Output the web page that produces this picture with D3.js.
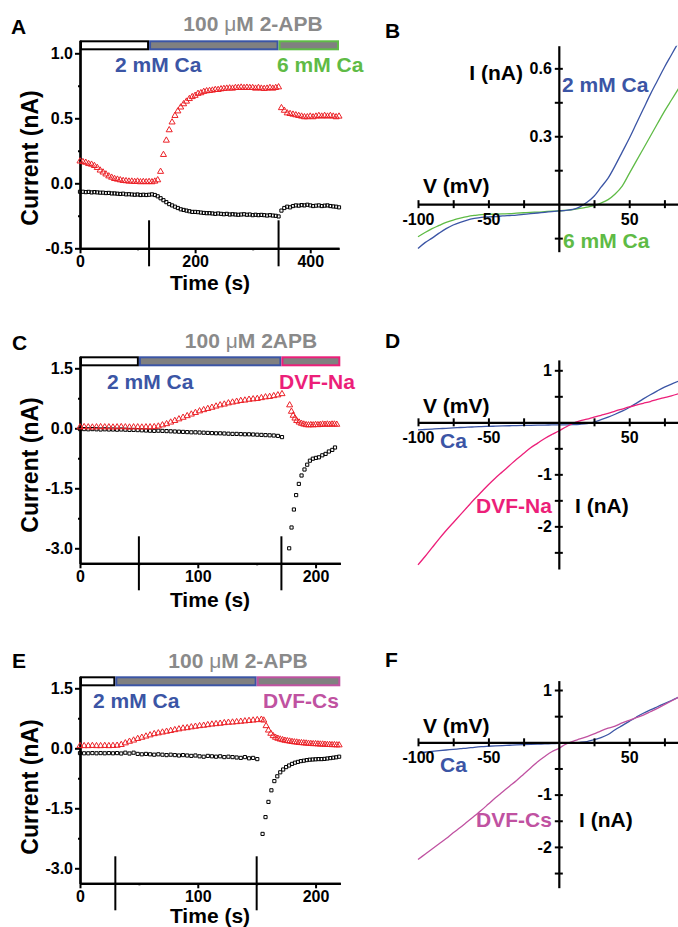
<!DOCTYPE html>
<html><head><meta charset="utf-8">
<script src="https://cdn.jsdelivr.net/npm/d3@7"></script>
<style>
body{margin:0;background:#fff}
svg{display:block}
text{font-family:'Liberation Sans',Arial,Helvetica,sans-serif;font-weight:bold}
</style>
</head><body>
<svg id="c" width="678" height="927"></svg>
<script>
// ---------------- DATA ----------------
// Panel A (time course, 2 mM Ca -> 6 mM Ca)
const tA_pre = d3.range(0, 346, 5);
const tA_post = d3.range(350, 451, 5);
const redA_pre = [0.17,0.165,0.16,0.15,0.145,0.135,0.12,0.10,0.085,0.07,
 0.055,0.045,0.035,0.03,0.025,0.02,0.018,0.015,0.015,0.012,
 0.015,0.01,0.012,0.01,0.012,0.01,0.015,0.025,0.09,0.22,
 0.33,0.41,0.47,0.52,0.555,0.585,0.61,0.63,0.65,0.665,
 0.675,0.69,0.695,0.705,0.71,0.712,0.715,0.72,0.72,0.725,
 0.728,0.73,0.732,0.73,0.735,0.735,0.738,0.735,0.737,0.735,
 0.735,0.73,0.735,0.73,0.728,0.73,0.735,0.73,0.735,0.74];
const redA_post = [0.58,0.56,0.54,0.535,0.53,0.525,0.52,0.515,0.51,0.51,0.515,0.51,0.515,0.52,0.515,0.52,0.515,0.52,0.515,0.51,0.515];
const blackA_pre = [-0.065,-0.065,-0.068,-0.066,-0.07,-0.068,-0.07,-0.072,-0.072,-0.075,
 -0.074,-0.078,-0.078,-0.08,-0.082,-0.08,-0.085,-0.084,-0.086,-0.088,
 -0.086,-0.09,-0.088,-0.09,-0.088,-0.085,-0.09,-0.10,-0.115,-0.13,
 -0.145,-0.16,-0.17,-0.18,-0.19,-0.2,-0.205,-0.21,-0.215,-0.22,
 -0.22,-0.222,-0.225,-0.228,-0.23,-0.23,-0.232,-0.235,-0.232,-0.235,
 -0.238,-0.235,-0.24,-0.238,-0.24,-0.242,-0.24,-0.238,-0.242,-0.24,
 -0.245,-0.242,-0.245,-0.243,-0.245,-0.248,-0.245,-0.248,-0.25,-0.255];
const blackA_post = [-0.21,-0.19,-0.18,-0.185,-0.175,-0.17,-0.172,-0.168,-0.17,-0.165,-0.17,-0.175,-0.172,-0.17,-0.175,-0.172,-0.17,-0.175,-0.178,-0.18,-0.185];

// Panel C (time course, 2 mM Ca -> DVF-Na)
const tC_pre = d3.range(0, 172, 3.5);
const redC_pre = [0.03,0.035,0.03,0.025,0.03,0.035,0.03,0.03,0.025,0.03,
 0.035,0.03,0.025,0.03,0.03,0.025,0.03,0.03,0.035,
 0.05,0.08,0.11,0.15,0.19,0.23,0.27,0.31,0.35,0.39,
 0.43,0.46,0.49,0.52,0.55,0.58,0.6,0.63,0.65,0.67,
 0.69,0.7,0.72,0.73,0.74,0.76,0.78,0.79,0.81,0.83,0.86];
const blackC_pre = [-0.02,-0.02,-0.025,-0.02,-0.025,-0.03,-0.025,-0.03,-0.03,-0.035,
 -0.03,-0.035,-0.04,-0.04,-0.045,-0.05,-0.055,-0.06,-0.065,-0.06,
 -0.065,-0.07,-0.075,-0.08,-0.085,-0.09,-0.095,-0.1,-0.1,-0.105,
 -0.11,-0.115,-0.12,-0.125,-0.125,-0.13,-0.135,-0.14,-0.14,-0.145,
 -0.15,-0.15,-0.155,-0.16,-0.165,-0.17,-0.175,-0.18,-0.19,-0.22];
const tC_redPost = [178,179.5,181,182.5,184,186,188,190,192,194,196,198,200,202,204,206,208,210,212,214,216,218];
const redC_post = [0.58,0.42,0.32,0.25,0.19,0.15,0.12,0.1,0.085,0.08,0.085,0.08,0.09,0.085,0.09,0.1,0.095,0.1,0.095,0.1,0.1,0.095];
const tC_blackPost = [177.6,179.6,181.6,183.5,185.8,188.1,190.6,192.9,195.2,197.7,200.3,202.8,205.7,208.5,211.3,214.2,216.5];
const blackC_post = [-3.0,-2.48,-2.03,-1.67,-1.39,-1.18,-1.03,-0.91,-0.81,-0.76,-0.74,-0.725,-0.675,-0.64,-0.58,-0.54,-0.48];

// Panel E (time course, 2 mM Ca -> DVF-Cs)
const tE_redPre = d3.range(0, 155, 3.5);
const redE_pre = [0.06,0.06,0.06,0.065,0.06,0.06,0.065,0.06,0.065,0.07,
 0.09,0.13,0.17,0.2,0.24,0.27,0.3,0.33,0.36,0.38,
 0.4,0.42,0.44,0.46,0.48,0.5,0.51,0.53,0.545,0.56,
 0.57,0.585,0.6,0.61,0.62,0.635,0.645,0.65,0.66,0.67,
 0.68,0.69,0.7,0.71,0.72];
const tE_blackPre = d3.range(0, 151, 3.5);
const blackE_pre = [-0.12,-0.125,-0.125,-0.12,-0.125,-0.12,-0.125,-0.12,-0.125,-0.12,
 -0.13,-0.11,-0.13,-0.11,-0.14,-0.15,-0.14,-0.15,-0.16,-0.15,
 -0.16,-0.17,-0.16,-0.17,-0.18,-0.17,-0.18,-0.19,-0.18,-0.2,
 -0.21,-0.19,-0.2,-0.21,-0.2,-0.22,-0.21,-0.22,-0.23,-0.24,
 -0.22,-0.25,-0.24,-0.27];
const tE_redPost = d3.range(156, 221, 2);
const redE_post = [0.7,0.56,0.45,0.37,0.31,0.27,0.245,0.225,0.21,0.195,
 0.185,0.175,0.165,0.155,0.15,0.14,0.135,0.13,0.125,0.12,
 0.115,0.11,0.11,0.105,0.1,0.1,0.095,0.09,0.09,0.085,0.085,0.08,0.08];
const tE_blackPost = d3.range(155, 221, 2.5);
const blackE_post = [-2.14,-1.72,-1.34,-1.05,-0.82,-0.7,-0.6,-0.53,-0.47,-0.43,
 -0.39,-0.36,-0.34,-0.32,-0.31,-0.295,-0.285,-0.28,-0.275,-0.27,
 -0.27,-0.265,-0.255,-0.245,-0.235,-0.225,-0.21];

// I-V curves (V in mV)
const voltage = d3.range(-100, 86, 5);
const ivB_Ca2 = [-0.196,-0.17,-0.15,-0.128,-0.108,-0.092,-0.08,-0.07,-0.063,-0.058,
 -0.056,-0.055,-0.052,-0.05,-0.048,-0.045,-0.042,-0.039,-0.036,-0.033,
 -0.03,-0.027,-0.023,-0.012,0.008,0.035,0.075,0.115,0.17,0.23,
 0.29,0.355,0.42,0.485,0.545,0.605,0.66,0.715];
const ivB_Ca6 = [-0.144,-0.125,-0.108,-0.094,-0.08,-0.07,-0.062,-0.055,-0.05,-0.046,
 -0.045,-0.044,-0.043,-0.042,-0.04,-0.038,-0.036,-0.035,-0.033,-0.031,
 -0.03,-0.027,-0.024,-0.019,-0.013,-0.006,0.005,0.02,0.045,0.08,
 0.135,0.19,0.245,0.3,0.355,0.41,0.46,0.51];
const ivD_Ca = [-0.147,-0.138,-0.13,-0.122,-0.115,-0.107,-0.1,-0.094,-0.088,-0.083,
 -0.078,-0.074,-0.07,-0.066,-0.062,-0.06,-0.057,-0.055,-0.053,-0.051,
 -0.05,-0.048,-0.045,-0.038,-0.025,0.005,0.05,0.1,0.155,0.215,
 0.285,0.365,0.45,0.53,0.605,0.675,0.735,0.79];
const ivD_Na = [-2.74,-2.58,-2.41,-2.24,-2.08,-1.93,-1.78,-1.63,-1.48,-1.34,
 -1.2,-1.07,-0.95,-0.83,-0.71,-0.6,-0.49,-0.4,-0.31,-0.235,
 -0.167,-0.09,-0.02,0.026,0.06,0.1,0.135,0.17,0.215,0.255,
 0.295,0.33,0.365,0.4,0.44,0.475,0.51,0.55];
const ivF_Ca = [-0.21,-0.19,-0.175,-0.16,-0.147,-0.135,-0.122,-0.11,-0.095,-0.083,
 -0.075,-0.068,-0.062,-0.056,-0.05,-0.045,-0.04,-0.035,-0.03,-0.025,
 -0.02,-0.015,-0.008,0.0,0.015,0.05,0.09,0.15,0.24,0.32,
 0.4,0.48,0.555,0.62,0.68,0.74,0.8,0.86];
const ivF_Cs = [-2.24,-2.14,-2.04,-1.94,-1.84,-1.73,-1.63,-1.52,-1.41,-1.3,
 -1.18,-1.06,-0.95,-0.84,-0.73,-0.61,-0.49,-0.37,-0.27,-0.18,
 -0.115,-0.035,0.02,0.064,0.11,0.16,0.22,0.27,0.31,0.37,
 0.42,0.47,0.52,0.585,0.65,0.72,0.79,0.86];

// tick values
const ticksA_y = [-0.5, 0, 0.5, 1.0], minorA_y = [-0.25, 0.25, 0.75];
const ticksA_x = [0, 200, 400], minorA_x = [100, 300];
const ticksCE_y = [-3.0, -1.5, 0, 1.5], minorCE_y = [-2.25, -0.75, 0.75];
const ticksCE_x = [0, 100, 200], minorCE_x = [50, 150];
const ivTicksX = [-100, -75, -50, -25, 25, 50, 75], ivLabelsX = [-100, -50, 50];
const ticksB_y = [-0.15, 0.15, 0.3, 0.45, 0.6], labelsB_y = [0.3, 0.6];
const ticksDF_y = [-2.5, -2, -1.5, -1, -0.5, 0.5, 1], labelsDF_y = [-2, -1, 1];

// ---------------- COLORS ----------------
const RED = '#ec2127', BLUE = '#3b55a5', GREEN = '#5fbb46', PINK = '#ec1f79', PURPLE = '#c052a1', GREY = '#8a8a8a', BARGREY = '#808080';

const svg = d3.select('#c');

function label(x, y, str, color, size, anchor) {
  return svg.append('text').attr('x', x).attr('y', y).attr('fill', color || '#000')
    .attr('font-size', size || 21).attr('text-anchor', anchor || 'start').text(str);
}
function drugLabel(cx, y, pre, post) {
  const t = svg.append('text').attr('x', cx).attr('y', y).attr('fill', GREY)
    .attr('font-size', 21).attr('text-anchor', 'middle');
  t.append('tspan').text(pre);
  t.append('tspan').attr('font-weight', 'normal').text('\u03bc');
  t.append('tspan').text(post);
}
function styleAxis(g) {
  g.selectAll('path.domain').attr('stroke', '#000').attr('stroke-width', 2.2);
  g.selectAll('.tick line').attr('stroke', '#000').attr('stroke-width', 2);
  g.selectAll('.tick text').attr('font-size', 16).attr('fill', '#000')
    .attr('font-family', "'Liberation Sans',Arial,sans-serif").attr('font-weight', 'bold');
}

function timePanel(p) {
  const x = d3.scaleLinear().domain(p.xDomain).range([80, p.right]);
  const y = d3.scaleLinear().domain(p.yDomain).range([p.bottom, p.top]);
  const g = svg.append('g');
  // solution bar
  const segs = [[p.xDomain[0], p.sw[0], '#fff', '#000'], [p.sw[0], p.sw[1], BARGREY, BLUE], [p.sw[1], p.xDomain[1], BARGREY, p.col3]];
  segs.forEach(s => g.append('rect').attr('x', x(s[0]) + 1).attr('y', p.top + 1)
    .attr('width', x(s[1]) - x(s[0]) - 2).attr('height', 8)
    .attr('fill', s[2]).attr('stroke', s[3]).attr('stroke-width', 2));
  // axes
  const yAx = g.append('g').attr('transform', 'translate(80,0)')
    .call(d3.axisLeft(y).tickValues(p.yTicks).tickFormat(d => d.toFixed(1)).tickSize(5).tickSizeOuter(0).tickPadding(2));
  styleAxis(yAx);
  const yMin = g.append('g').attr('transform', 'translate(80,0)')
    .call(d3.axisLeft(y).tickValues(p.yMinor).tickFormat('').tickSize(2).tickSizeOuter(0));
  styleAxis(yMin);
  const xAx = g.append('g').attr('transform', `translate(0,${p.bottom})`)
    .call(d3.axisBottom(x).tickValues(p.xTicks).tickFormat(d3.format('d')).tickSize(5).tickSizeOuter(0).tickPadding(2));
  styleAxis(xAx);
  const xMin = g.append('g').attr('transform', `translate(0,${p.bottom})`)
    .call(d3.axisBottom(x).tickValues(p.xMinor).tickFormat('').tickSize(2).tickSizeOuter(0));
  styleAxis(xMin);
  // switch markers
  p.sw.forEach(s => g.append('line').attr('x1', x(s)).attr('x2', x(s))
    .attr('y1', p.bottom - p.swUp).attr('y2', p.bottom + p.swDown)
    .attr('stroke', '#000').attr('stroke-width', 2));
  // data markers
  const tri = d3.symbol(d3.symbolTriangle, 16)();
  const sq = d3.symbol(d3.symbolSquare, 10)();
  p.series.forEach(s => {
    g.append('g').selectAll('path').data(d3.zip(s.t, s.v)).join('path')
      .attr('d', s.type === 'tri' ? tri : sq)
      .attr('transform', d => `translate(${x(d[0])},${y(d[1])})`)
      .attr('fill', 'none').attr('stroke', s.type === 'tri' ? RED : '#000').attr('stroke-width', 1);
  });
  // titles
  svg.append('text').attr('transform', `translate(38,${p.yTitleY}) rotate(-90)`)
    .attr('text-anchor', 'middle').attr('font-size', 23).text('Current (nA)');
  label(210, p.xTitleY, 'Time (s)', '#000', 21, 'middle');
}

function ivPanel(p) {
  const x = d3.scaleLinear().domain([-100, 85]).range([418, 678.5]);
  const y = d3.scaleLinear().domain(p.yDomain).range([p.bottom, p.top]);
  const g = svg.append('g');
  const clipId = 'clip' + p.id;
  g.append('clipPath').attr('id', clipId).append('rect')
    .attr('x', 416).attr('y', p.top).attr('width', 264).attr('height', p.bottom - p.top);
  const line = d3.line().x((d, i) => x(voltage[i])).y(d => y(d)).curve(d3.curveCatmullRom.alpha(0.5));
  p.curves.forEach(c => g.append('path').datum(c.v).attr('d', line)
    .attr('fill', 'none').attr('stroke', c.color).attr('stroke-width', 1.3)
    .attr('clip-path', `url(#${clipId})`));
  const xAx = g.append('g').attr('transform', `translate(0,${y(0)})`)
    .call(d3.axisBottom(x).tickValues(ivTicksX).tickFormat(d => ivLabelsX.includes(d) ? String(d) : '')
      .tickSize(4).tickSizeOuter(0).tickPadding(5));
  xAx.selectAll('.tick line').attr('y1', -4);
  styleAxis(xAx);
  const yAx = g.append('g').attr('transform', `translate(${x(0)},0)`)
    .call(d3.axisLeft(y).tickValues(p.yTicks).tickFormat(d => p.yLabels.includes(d) ? String(d) : '')
      .tickSize(4).tickSizeOuter(0).tickPadding(3));
  yAx.selectAll('.tick line').attr('x1', 4);
  styleAxis(yAx);
}

// ---------------- PANELS ----------------
timePanel({
  xDomain: [0, 450], right: 339, yDomain: [-0.5, 1.1], top: 40.3, bottom: 248.3,
  yTicks: ticksA_y, yMinor: minorA_y, xTicks: ticksA_x, xMinor: minorA_x,
  sw: [120, 345], col3: GREEN, swUp: 28, swDown: 18, yTitleY: 158, xTitleY: 290,
  series: [
    {t: tA_pre, v: blackA_pre, type: 'sq'}, {t: tA_post, v: blackA_post, type: 'sq'},
    {t: tA_pre, v: redA_pre, type: 'tri'}, {t: tA_post, v: redA_post, type: 'tri'}]
});
label(11, 34, 'A');
drugLabel(253, 31, '100 ', 'M 2-APB');
label(115, 72, '2 mM Ca', BLUE);
label(277, 72, '6 mM Ca', GREEN);

timePanel({
  xDomain: [0, 221], right: 340.3, yDomain: [-3.375, 1.8], top: 356.3, bottom: 563.3,
  yTicks: ticksCE_y, yMinor: minorCE_y, xTicks: ticksCE_x, xMinor: minorCE_x,
  sw: [50, 171], col3: PINK, swUp: 27, swDown: 27, yTitleY: 465, xTitleY: 607,
  series: [
    {t: tC_pre, v: blackC_pre, type: 'sq'}, {t: tC_blackPost, v: blackC_post, type: 'sq'},
    {t: tC_pre, v: redC_pre, type: 'tri'}, {t: tC_redPost, v: redC_post, type: 'tri'}]
});
label(12, 350, 'C');
drugLabel(251, 348, '100 ', 'M 2APB');
label(107, 389, '2 mM Ca', BLUE);
label(279, 389, 'DVF-Na', PINK);

timePanel({
  xDomain: [0, 221], right: 340.3, yDomain: [-3.375, 1.8], top: 676.3, bottom: 883.3,
  yTicks: ticksCE_y, yMinor: minorCE_y, xTicks: ticksCE_x, xMinor: minorCE_x,
  sw: [30, 150], col3: PURPLE, swUp: 27, swDown: 27, yTitleY: 787, xTitleY: 923,
  series: [
    {t: tE_blackPre, v: blackE_pre, type: 'sq'}, {t: tE_blackPost, v: blackE_post, type: 'sq'},
    {t: tE_redPre, v: redE_pre, type: 'tri'}, {t: tE_redPost, v: redE_post, type: 'tri'}]
});
label(12, 668, 'E');
drugLabel(238, 668, '100 ', 'M 2-APB');
label(93, 708, '2 mM Ca', BLUE);
label(263, 708, 'DVF-Cs', PURPLE);

ivPanel({
  id: 'B', yDomain: [-0.21, 0.70], top: 45.7, bottom: 251.7,
  yTicks: ticksB_y, yLabels: labelsB_y,
  curves: [{v: ivB_Ca6, color: GREEN}, {v: ivB_Ca2, color: BLUE}]
});
label(385, 38, 'B');
label(523, 80, 'I (nA)', '#000', 21, 'end');
label(562, 92, '2 mM Ca', BLUE);
label(423, 193, 'V (mV)');
label(563, 248, '6 mM Ca', GREEN);

ivPanel({
  id: 'D', yDomain: [-2.82, 1.2], top: 359.9, bottom: 569,
  yTicks: ticksDF_y, yLabels: labelsDF_y,
  curves: [{v: ivD_Ca, color: BLUE}, {v: ivD_Na, color: PINK}]
});
label(385, 348, 'D');
label(423, 413, 'V (mV)');
label(440, 448, 'Ca', BLUE);
label(476, 513, 'DVF-Na', PINK);
label(575, 513, 'I (nA)');

ivPanel({
  id: 'F', yDomain: [-2.78, 1.18], top: 680.6, bottom: 887.7,
  yTicks: ticksDF_y, yLabels: labelsDF_y,
  curves: [{v: ivF_Ca, color: BLUE}, {v: ivF_Cs, color: PURPLE}]
});
label(385, 667, 'F');
label(423, 733, 'V (mV)');
label(440, 772, 'Ca', BLUE);
label(476, 827, 'DVF-Cs', PURPLE);
label(579, 827, 'I (nA)');
</script>
</body></html>
